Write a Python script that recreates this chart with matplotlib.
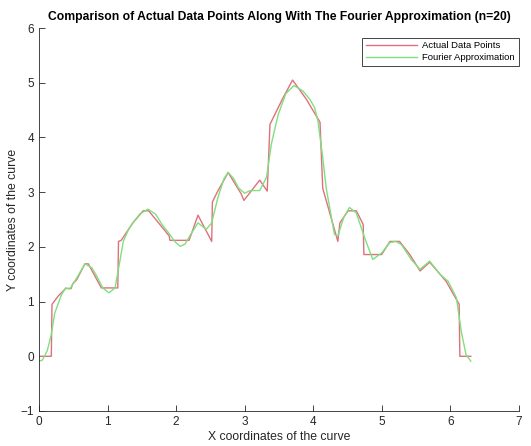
import matplotlib.pyplot as plt

plt.rcParams['font.family'] = ['Liberation Sans', 'DejaVu Sans']

# measured curve points
x_actual = [0.0, 0.18, 0.19, 0.28, 0.39, 0.47, 0.49, 0.55, 0.67, 0.72, 0.91, 1.15, 1.16, 1.2,
            1.37, 1.52, 1.6, 1.9, 1.91, 2.19, 2.32, 2.52, 2.53, 2.6, 2.76, 2.95, 2.99, 3.22,
            3.33, 3.37, 3.55, 3.7, 3.9, 4.1, 4.14, 4.36, 4.39, 4.51, 4.63, 4.73, 4.74, 5.0,
            5.12, 5.26, 5.41, 5.56, 5.7, 5.94, 6.13, 6.14, 6.3]
y_actual = [0.0, 0.0, 0.95, 1.1, 1.24, 1.24, 1.32, 1.4, 1.69, 1.69, 1.25, 1.25, 2.1, 2.12,
            2.44, 2.66, 2.66, 2.2, 2.12, 2.12, 2.58, 2.1, 2.82, 3.0, 3.36, 2.97, 2.85, 3.22,
            3.02, 4.24, 4.7, 5.05, 4.7, 4.28, 3.07, 2.1, 2.44, 2.66, 2.66, 2.41, 1.86, 1.86,
            2.1, 2.1, 1.86, 1.56, 1.72, 1.37, 0.95, 0.0, 0.0]

# fourier series (n=20) evaluated along the curve
x_fourier = [0.0, 0.05, 0.12, 0.18, 0.23, 0.33, 0.39, 0.45, 0.55, 0.67, 0.77, 0.85, 0.93, 1.02,
             1.11, 1.18, 1.23, 1.3, 1.37, 1.47, 1.59, 1.7, 1.8, 1.89, 1.98, 2.06, 2.13, 2.2,
             2.32, 2.44, 2.52, 2.61, 2.7, 2.76, 2.84, 2.91, 3.0, 3.08, 3.22, 3.32, 3.39, 3.49,
             3.6, 3.72, 3.85, 3.95, 4.02, 4.07, 4.14, 4.19, 4.31, 4.36, 4.45, 4.53, 4.63, 4.75,
             4.87, 5.0, 5.12, 5.21, 5.29, 5.43, 5.56, 5.7, 5.85, 5.97, 6.09, 6.16, 6.23, 6.3]
y_fourier = [-0.09, -0.07, 0.1, 0.4, 0.79, 1.13, 1.25, 1.23, 1.43, 1.69, 1.62, 1.45, 1.25, 1.16,
             1.25, 1.74, 2.1, 2.3, 2.44, 2.6, 2.69, 2.6, 2.4, 2.26, 2.1, 2.01, 2.05, 2.2,
             2.44, 2.32, 2.44, 2.9, 3.25, 3.36, 3.25, 3.08, 2.98, 3.03, 3.03, 3.27, 3.88, 4.42,
             4.8, 4.95, 4.85, 4.7, 4.55, 4.3, 3.63, 3.08, 2.23, 2.2, 2.55, 2.72, 2.62, 2.17,
             1.77, 1.89, 2.08, 2.1, 2.04, 1.77, 1.59, 1.74, 1.5, 1.37, 1.07, 0.46, 0.03, -0.09]

fig = plt.figure(figsize=(5.31, 4.46), dpi=100)
ax = fig.add_axes([0.0734, 0.0785, 0.9036, 0.8585])

ax.plot(x_actual, y_actual, color='#e0707c', linewidth=1.0, label='Actual Data Points')
ax.plot(x_fourier, y_fourier, color='#7fe07f', linewidth=1.0, label='Fourier Approximation')

ax.set_xlim(0, 7)
ax.set_ylim(-1, 6)
ax.set_xticks(range(0, 8))
ax.set_yticks(range(-1, 7))

for side in ['top', 'right']:
    ax.spines[side].set_visible(False)
for side in ['left', 'bottom']:
    ax.spines[side].set_color('#262626')
    ax.spines[side].set_linewidth(0.6)
ax.tick_params(direction='in', length=4, width=0.6, color='#262626',
               labelcolor='#262626', labelsize=8.5)

ax.set_title('Comparison of Actual Data Points Along With The Fourier Approximation (n=20)',
             fontsize=8.7, fontweight='bold', pad=6)
ax.set_xlabel('X coordinates of the curve', fontsize=8.8, color='#262626', labelpad=2)
ax.set_ylabel('Y coordinates of the curve', fontsize=8.8, color='#262626')
ax.yaxis.set_label_coords(-0.042, 0.5)

leg = ax.legend(loc='upper right', fontsize=6.8, fancybox=False, framealpha=1,
                edgecolor='#262626', handlelength=5.4, handletextpad=0.6,
                borderpad=0.4, labelspacing=0.25, borderaxespad=0,
                bbox_to_anchor=(1.0, 0.975))
leg.get_frame().set_linewidth(0.6)

fig.savefig('out.png', dpi=100)
